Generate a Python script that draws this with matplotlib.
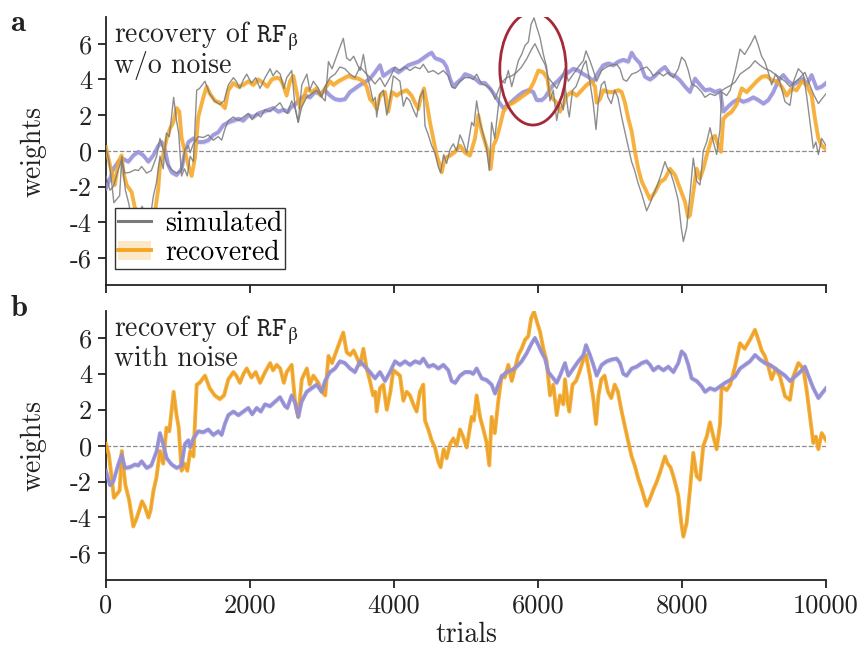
import matplotlib
matplotlib.use("Agg")
import matplotlib.pyplot as plt
import numpy as np
from matplotlib.patches import Ellipse, Patch
from matplotlib.lines import Line2D

plt.rcParams['font.family'] = ['cmr10', 'DejaVu Serif']
plt.rcParams['mathtext.fontset'] = 'cm'
plt.rcParams['axes.unicode_minus'] = False
plt.rcParams['axes.formatter.use_mathtext'] = False

# simulated weights (trial, weight)
sim_orange = [(0, 0.1), (40, -0.5), (80, -1.8), (110, -2.9), (150, -2.7), (190, -2.5), (220, -0.3),
              (250, -1.5), (270, -2.2), (320, -3.0), (380, -4.5), (430, -4.0), (470, -3.5), (500, -3.1),
              (540, -3.4), (590, -4.0), (620, -3.6), (660, -2.5), (700, -1.8), (750, -0.3), (795, -1.0),
              (840, 1.0), (880, 0.8), (940, 3.0), (980, 1.7), (1010, 1.0), (1050, -1.4), (1090, -1.0),
              (1130, -1.4), (1170, -0.3), (1215, -0.6), (1260, 3.4), (1300, 3.5), (1375, 3.9), (1440, 3.2),
              (1510, 2.8), (1580, 2.6), (1640, 2.8), (1700, 3.7), (1770, 4.1), (1810, 3.9), (1860, 3.5),
              (1910, 4.0), (1955, 4.3), (2020, 3.8), (2080, 4.1), (2140, 3.5), (2210, 4.1), (2280, 4.6),
              (2320, 4.2), (2370, 4.5), (2420, 4.3), (2470, 3.5), (2510, 4.1), (2580, 4.5), (2625, 2.5),
              (2670, 1.6), (2720, 3.7), (2790, 4.3), (2830, 3.4), (2880, 3.9), (2950, 3.5), (3000, 3.0),
              (3045, 2.8), (3090, 5.0), (3140, 4.6), (3230, 5.6), (3296, 6.3), (3343, 5.2), (3390, 5.05),
              (3440, 5.3), (3530, 4.5), (3575, 5.4), (3620, 4.3), (3667, 3.6), (3710, 2.8), (3740, 3.0),
              (3760, 1.9), (3806, 3.2), (3852, 3.4), (3900, 2.0), (3950, 3.0), (3991, 4.2), (4083, 3.9),
              (4130, 2.5), (4175, 3.0), (4222, 2.8), (4269, 2.3), (4315, 1.9), (4360, 3.0), (4407, 3.4),
              (4431, 1.4), (4477, 0.9), (4523, 0.3), (4569, -0.1), (4616, -0.9), (4648, -1.2), (4690, -0.2),
              (4731, -0.7), (4780, 0.1), (4824, 0.4), (4870, 0.0), (4917, 0.9), (4960, 0.5), (5010, -0.1),
              (5050, 0.9), (5079, 1.6), (5110, 1.4), (5148, 2.8), (5195, 1.6), (5241, 0.9), (5285, 0.2),
              (5324, -1.1), (5356, 1.6), (5400, 0.7), (5449, 2.5), (5496, 3.9), (5540, 3.8), (5588, 4.5),
              (5635, 3.6), (5681, 4.3), (5727, 5.05), (5773, 5.4), (5820, 5.9), (5866, 6.1), (5905, 7.1),
              (5945, 7.45), (5985, 6.9), (6028, 6.35), (6075, 5.4), (6120, 4.7), (6167, 2.8), (6213, 3.4),
              (6260, 1.7), (6306, 2.8), (6352, 2.3), (6375, 3.7), (6420, 2.2), (6435, 1.9), (6480, 3.4),
              (6528, 3.6), (6575, 4.1), (6630, 4.8), (6667, 5.05), (6720, 3.9), (6769, 2.6), (6806, 1.2),
              (6840, 2.8), (6880, 3.7), (6925, 3.9), (6972, 3.0), (7018, 2.65), (7065, 3.4), (7110, 3.0),
              (7157, 2.0), (7200, 1.2), (7250, 0.3), (7300, -0.6), (7343, -1.1), (7390, -1.8), (7440, -2.4),
              (7509, -3.35), (7560, -2.9), (7602, -2.45), (7650, -2.0), (7694, -1.5), (7740, -0.9),
              (7764, -0.6), (7800, -1.0), (7840, -1.2), (7880, -1.7), (7920, -2.3), (7949, -2.8),
              (7990, -4.3), (8019, -5.07), (8065, -4.3), (8111, -2.45), (8157, -0.4), (8204, -1.7),
              (8250, -1.9), (8296, 0.0), (8343, 0.5), (8389, 1.3), (8430, 0.6), (8481, -0.2), (8528, 1.2),
              (8551, 3.3), (8620, 3.1), (8670, 3.4), (8736, 4.4), (8780, 5.2), (8806, 5.7), (8870, 5.4),
              (8944, 5.9), (9014, 6.45), (9060, 5.9), (9106, 5.3), (9150, 5.0), (9199, 4.4), (9245, 3.7),
              (9300, 4.3), (9361, 3.85), (9431, 2.75), (9500, 2.55), (9546, 3.85), (9616, 4.6), (9685, 4.3),
              (9731, 3.1), (9778, 1.6), (9824, 0.15), (9860, 0.5), (9894, -0.2), (9940, 0.7), (10000, 0.3)]

sim_purple = [(0, -1.4), (56, -2.2), (102, -2.0), (171, -1.05), (218, -0.5), (264, -1.24), (330, -1.2),
              (403, -1.05), (450, -1.1), (495, -0.87), (565, -1.24), (630, -1.1), (704, -0.3), (750, 0.7),
              (796, 0.06), (843, -0.7), (912, -1.05), (981, -1.24), (1051, -1.1), (1097, 0.1), (1144, 0.3),
              (1170, -0.1), (1213, 0.4), (1282, 0.8), (1350, 0.75), (1421, 0.9), (1490, 0.6), (1560, 0.8),
              (1607, 0.6), (1650, 1.2), (1699, 1.7), (1769, 1.9), (1838, 1.7), (1907, 1.9), (1977, 2.1),
              (2030, 1.75), (2093, 2.1), (2150, 1.9), (2208, 2.3), (2278, 2.2), (2347, 2.45), (2417, 2.7),
              (2486, 2.2), (2520, 2.1), (2579, 2.8), (2625, 2.4), (2671, 1.6), (2718, 2.45), (2787, 3.0),
              (2857, 3.2), (2926, 3.4), (2995, 3.0), (3042, 3.6), (3111, 4.1), (3181, 4.3), (3250, 4.7),
              (3319, 4.6), (3389, 4.3), (3458, 4.1), (3528, 4.7), (3597, 4.4), (3667, 4.1), (3736, 3.75),
              (3806, 4.1), (3875, 3.6), (3944, 4.1), (4014, 4.7), (4083, 4.5), (4153, 4.7), (4222, 4.5),
              (4292, 4.7), (4361, 4.6), (4407, 4.85), (4477, 4.4), (4546, 4.5), (4616, 4.3), (4685, 4.5),
              (4755, 4.2), (4801, 3.6), (4850, 3.5), (4917, 3.9), (4986, 4.1), (5056, 4.1), (5100, 4.0),
              (5148, 4.3), (5218, 3.75), (5287, 3.65), (5356, 3.4), (5403, 2.9), (5449, 3.4), (5496, 3.85),
              (5565, 4.1), (5634, 4.2), (5704, 4.4), (5773, 4.7), (5843, 5.15), (5912, 5.7), (5958, 6.0),
              (6005, 5.6), (6050, 5.2), (6097, 4.85), (6144, 4.1), (6213, 3.75), (6260, 3.5), (6306, 3.9),
              (6375, 4.6), (6421, 3.9), (6491, 4.3), (6560, 4.7), (6630, 5.05), (6667, 5.6), (6722, 5.05),
              (6769, 4.5), (6815, 3.9), (6884, 4.5), (6954, 4.7), (7023, 4.8), (7093, 4.85), (7139, 4.6),
              (7185, 4.0), (7231, 3.9), (7301, 4.3), (7370, 4.4), (7440, 4.6), (7509, 4.7), (7556, 4.5),
              (7602, 4.2), (7671, 4.4), (7741, 4.2), (7810, 4.4), (7880, 4.1), (7949, 4.6), (7995, 5.25),
              (8042, 5.05), (8088, 4.5), (8134, 3.75), (8204, 3.6), (8273, 3.3), (8319, 3.0), (8389, 3.2),
              (8458, 3.1), (8528, 3.3), (8597, 3.5), (8667, 3.65), (8736, 3.85), (8806, 4.3), (8875, 4.5),
              (8944, 4.7), (9014, 5.05), (9083, 4.8), (9153, 4.6), (9222, 4.5), (9292, 4.3), (9361, 4.1),
              (9431, 3.9), (9500, 3.6), (9569, 3.85), (9639, 4.1), (9708, 4.4), (9755, 3.9), (9824, 3.2),
              (9894, 2.65), (9940, 2.9), (10000, 3.2)]

# recovered w/o noise (panel a)
rec_orange_a = [(0, 0.2), (56, -0.8), (125, -1.9), (171, -0.6), (218, -0.25), (241, -1.2), (287, -1.9),
                (356, -2.3), (403, -3.2), (449, -3.4), (495, -3.6), (565, -3.7), (634, -3.8), (681, -3.4),
                (727, -2.1), (750, -0.8), (796, -0.2), (843, 0.7), (889, 1.25), (935, 1.6), (981, 2.4),
                (1019, 2.2), (1051, 0.7), (1097, -0.05), (1144, -0.8), (1190, -1.4), (1236, -0.4),
                (1282, 1.9), (1352, 3.0), (1398, 3.6), (1444, 3.2), (1514, 2.8), (1583, 2.7), (1653, 2.4),
                (1699, 3.4), (1769, 3.8), (1838, 3.6), (1907, 3.7), (1977, 3.9), (2046, 3.7), (2116, 4.0),
                (2185, 3.8), (2240, 3.6), (2301, 4.0), (2370, 4.1), (2417, 4.05), (2460, 3.7), (2509, 3.1),
                (2556, 3.9), (2602, 4.2), (2648, 3.3), (2694, 2.4), (2741, 2.9), (2787, 3.5), (2857, 3.3),
                (2926, 3.5), (2980, 3.1), (3042, 3.5), (3111, 3.9), (3160, 3.7), (3227, 3.9), (3296, 4.05),
                (3366, 4.2), (3435, 4.1), (3505, 4.05), (3574, 3.9), (3620, 3.6), (3667, 2.9), (3714, 2.7),
                (3760, 2.35), (3806, 3.1), (3875, 3.3), (3921, 2.2), (3970, 3.3), (4037, 3.1), (4107, 3.3),
                (4176, 3.4), (4245, 3.1), (4292, 2.7), (4338, 2.35), (4380, 3.1), (4417, 3.5), (4455, 2.7),
                (4500, 1.6), (4546, 0.7), (4593, -0.25), (4639, -0.8), (4662, -1.2), (4708, -0.4),
                (4778, -0.25), (4847, -0.05), (4917, 0.3), (4986, -0.1), (5056, -0.25), (5125, 0.7),
                (5171, 2.0), (5218, 1.1), (5264, 0.5), (5310, -0.1), (5343, -1.0), (5380, 0.3), (5426, 0.7),
                (5472, 1.4), (5519, 2.2), (5588, 2.6), (5657, 2.7), (5727, 2.9), (5796, 3.1), (5866, 3.3),
                (5935, 3.8), (6005, 4.5), (6074, 4.4), (6130, 4.05), (6167, 3.1), (6213, 2.9), (6260, 2.7),
                (6306, 2.2), (6352, 2.6), (6398, 3.1), (6468, 3.3), (6537, 3.1), (6607, 3.4), (6676, 3.7),
                (6745, 3.9), (6792, 3.6), (6815, 2.7), (6861, 2.9), (6908, 3.4), (6977, 3.3), (7046, 3.3),
                (7116, 3.4), (7162, 3.3), (7208, 2.7), (7255, 1.8), (7301, 1.1), (7347, -0.05), (7393, -1.0),
                (7440, -1.7), (7486, -2.1), (7556, -2.7), (7625, -2.3), (7694, -1.75), (7764, -1.55),
                (7833, -1.0), (7903, -1.35), (7972, -2.1), (8042, -2.85), (8083, -3.7), (8111, -3.6),
                (8157, -2.3), (8204, -1.0), (8250, -1.55), (8296, -1.0), (8343, -0.25), (8412, 0.7),
                (8458, 0.85), (8505, 0.3), (8542, -0.05), (8574, 1.8), (8620, 2.0), (8690, 2.2), (8759, 2.6),
                (8829, 3.5), (8898, 3.3), (8968, 3.6), (9037, 3.9), (9106, 4.15), (9176, 4.2), (9245, 3.95),
                (9315, 3.9), (9384, 3.6), (9454, 3.1), (9523, 3.5), (9593, 3.4), (9662, 3.9), (9731, 3.7),
                (9801, 3.1), (9847, 1.8), (9894, 0.7), (9940, 0.3), (10000, 0.1)]

rec_purple_a = [(0, -2.1), (56, -1.55), (102, -1.0), (171, -0.6), (241, -0.45), (310, -0.6), (380, -0.25),
                (449, -0.05), (519, -0.25), (588, -0.6), (657, -0.25), (727, 0.3), (773, 0.5), (820, 0.05),
                (866, -0.8), (912, -1.2), (981, -1.35), (1051, -1.0), (1097, -0.05), (1144, 0.5), (1213, 0.7),
                (1282, 0.5), (1352, 0.5), (1421, 0.6), (1491, 0.9), (1560, 1.05), (1630, 1.45), (1699, 1.6),
                (1769, 1.7), (1838, 1.8), (1907, 1.7), (1977, 2.0), (2046, 1.9), (2116, 2.1), (2185, 2.2),
                (2255, 2.3), (2324, 2.4), (2393, 2.2), (2462, 2.3), (2532, 2.2), (2556, 2.4), (2625, 2.6),
                (2694, 2.9), (2764, 3.1), (2833, 3.0), (2903, 3.3), (2972, 3.2), (3042, 3.4), (3111, 3.1),
                (3181, 2.9), (3250, 2.85), (3319, 2.9), (3389, 3.3), (3458, 3.5), (3528, 3.7), (3597, 3.85),
                (3667, 4.05), (3736, 4.4), (3806, 4.8), (3852, 4.2), (3921, 4.4), (3991, 4.6), (4060, 4.4),
                (4130, 4.6), (4199, 4.8), (4269, 4.9), (4338, 5.0), (4407, 5.2), (4477, 5.4), (4523, 5.5),
                (4569, 5.2), (4639, 5.1), (4685, 5.0), (4731, 4.7), (4778, 4.05), (4824, 3.6), (4870, 3.8),
                (4940, 4.05), (4986, 4.3), (5056, 4.2), (5125, 4.05), (5194, 3.8), (5264, 3.8), (5333, 3.5),
                (5403, 3.1), (5472, 2.65), (5519, 2.4), (5588, 2.6), (5657, 2.85), (5727, 3.1), (5796, 3.3),
                (5866, 3.4), (5935, 3.3), (5981, 2.85), (6051, 2.85), (6097, 3.0), (6144, 3.3), (6213, 3.7),
                (6282, 3.95), (6352, 4.25), (6421, 4.4), (6491, 4.6), (6560, 4.5), (6630, 4.3), (6699, 4.15),
                (6769, 3.9), (6838, 4.4), (6908, 4.8), (6977, 4.9), (7046, 4.8), (7116, 5.0), (7185, 5.1),
                (7255, 5.0), (7301, 5.5), (7347, 5.2), (7417, 4.9), (7486, 4.15), (7556, 4.0), (7625, 4.2),
                (7694, 4.5), (7764, 4.7), (7833, 4.3), (7903, 4.2), (7972, 3.95), (8042, 3.6), (8111, 3.3),
                (8181, 4.05), (8250, 3.7), (8319, 3.4), (8389, 3.45), (8458, 3.3), (8528, 3.4), (8574, 2.2),
                (8644, 2.5), (8713, 2.75), (8782, 2.9), (8852, 2.75), (8921, 2.85), (8991, 3.0), (9060, 2.85),
                (9130, 2.65), (9199, 2.85), (9269, 3.3), (9338, 3.95), (9407, 4.25), (9477, 3.9), (9546, 3.7),
                (9616, 3.9), (9685, 4.05), (9731, 3.7), (9801, 4.25), (9870, 3.5), (9940, 3.6), (10000, 3.8)]

# with noise the recovered weights sit right on top of the simulated ones
rec_orange_b = sim_orange
rec_purple_b = sim_purple

band = 0.15  # half-width of the recovered confidence band
orange = '#f5a623'
purple = '#948fd9'
grey = '#7a7a7a'
ink = '#222222'

ellipse_xy = (5930, 4.6)
ellipse_w, ellipse_h = 920, 6.3


def xy(pairs):
    a = np.array(pairs, dtype=float)
    return a[:, 0], a[:, 1]


fig = plt.figure(figsize=(8.65, 6.52), dpi=100)
ax_a = fig.add_axes([0.1225, 0.563, 0.8324, 0.411])
ax_b = fig.add_axes([0.1225, 0.110, 0.8324, 0.413])

for ax in (ax_a, ax_b):
    ax.axhline(0, color='#8c8c8c', ls='--', lw=0.9, zorder=1)

# panel a: recovered under, simulated grey on top
for pairs, c in ((rec_purple_a, purple), (rec_orange_a, orange)):
    t, w = xy(pairs)
    ax_a.fill_between(t, w - band, w + band, color=c, alpha=0.2, lw=0, zorder=2)
    ax_a.plot(t, w, color=c, lw=2.8, alpha=0.85, zorder=3)
for pairs in (sim_purple, sim_orange):
    t, w = xy(pairs)
    ax_a.plot(t, w, color=grey, lw=1.0, alpha=0.85, zorder=4)

# panel b: simulated grey under, recovered on top
for pairs in (sim_purple, sim_orange):
    t, w = xy(pairs)
    ax_b.plot(t, w, color=grey, lw=1.0, zorder=2)
for pairs, c in ((rec_orange_b, orange), (rec_purple_b, purple)):
    t, w = xy(pairs)
    ax_b.fill_between(t, w - band, w + band, color=c, alpha=0.2, lw=0, zorder=3)
    ax_b.plot(t, w, color=c, lw=2.8, alpha=0.9, zorder=4)

ax_a.add_patch(Ellipse(ellipse_xy, ellipse_w, ellipse_h, fill=False,
                       edgecolor='#a3293a', lw=2, zorder=6))

for ax in (ax_a, ax_b):
    ax.set_xlim(0, 10000)
    ax.set_ylim(-7.5, 7.5)
    ax.set_yticks([-6, -4, -2, 0, 2, 4, 6])
    ax.set_xticks([0, 2000, 4000, 6000, 8000, 10000])
    ax.spines['top'].set_visible(False)
    ax.spines['right'].set_visible(False)
    for s in ('left', 'bottom'):
        ax.spines[s].set_linewidth(1.3)
        ax.spines[s].set_color(ink)
    ax.tick_params(direction='out', length=6, width=1.3, labelsize=19, color=ink,
                   labelcolor=ink, pad=4)
    ax.set_ylabel('weights', fontsize=20, color=ink)
    ax.yaxis.set_label_coords(-0.082, 0.5)

ax_a.tick_params(labelbottom=False)
ax_b.set_xlabel('trials', fontsize=20, color=ink)
ax_b.xaxis.set_label_coords(0.5, -0.155)

label_a = 'recovery of $\\mathtt{RF}_{\\mathrm{β}}$\nw/o noise'
label_b = 'recovery of $\\mathtt{RF}_{\\mathrm{β}}$\nwith noise'
ax_a.text(0.011, 0.99, label_a, transform=ax_a.transAxes,
          ha='left', va='top', fontsize=20, color=ink, linespacing=0.9)
ax_b.text(0.011, 0.99, label_b, transform=ax_b.transAxes,
          ha='left', va='top', fontsize=20, color=ink, linespacing=0.9)

fig.text(0.012, 0.985, 'a', fontsize=22, family='cmb10', va='top', color=ink)
fig.text(0.012, 0.548, 'b', fontsize=22, family='cmb10', va='top', color=ink)

handles = [Line2D([], [], color=grey, lw=2.2),
           (Patch(facecolor=orange, alpha=0.25, lw=0), Line2D([], [], color=orange, lw=2.8))]
leg = ax_a.legend(handles, ['simulated', 'recovered'], loc='lower left', bbox_to_anchor=(0.0125, 0.06),
                  borderaxespad=0, fontsize=20, frameon=True, fancybox=False, framealpha=1,
                  handlelength=1.2, handletextpad=0.5, labelspacing=0.1, borderpad=0.1)
leg.get_frame().set_edgecolor('#333333')
leg.get_frame().set_linewidth(1.0)

plt.savefig('out.png', dpi=100)
